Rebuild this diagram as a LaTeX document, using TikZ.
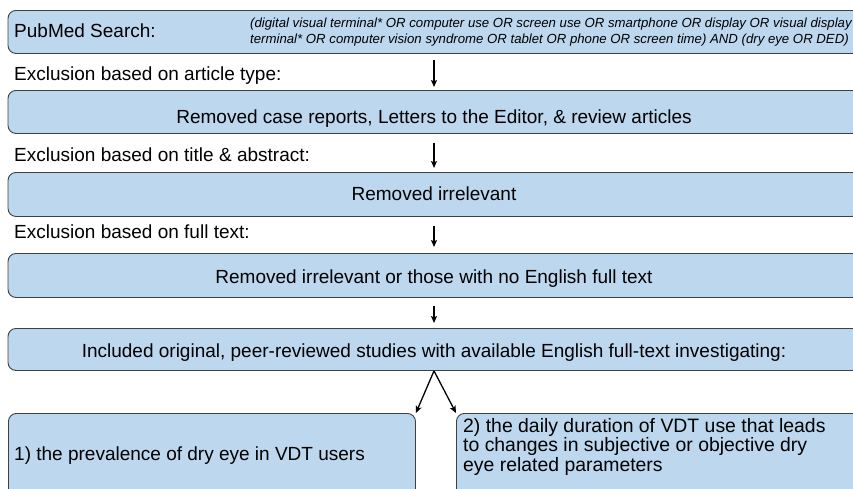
\documentclass[tikz,border=0pt]{standalone}
\usepackage{fontspec}
\setmainfont{Liberation Sans}
\usetikzlibrary{arrows.meta}
\definecolor{boxfill}{HTML}{BDD7EE}
\definecolor{boxline}{HTML}{404040}
\begin{document}
\begin{tikzpicture}[x=1pt,y=1pt,
  stagebox/.style={draw=boxline, fill=boxfill, rounded corners=8pt, line width=0.9pt, inner sep=0pt},
  lbl/.style={anchor=base west, inner sep=0pt, font=\fontsize{19}{22}\selectfont},
  ctr/.style={anchor=base, inner sep=0pt, font=\fontsize{19}{22}\selectfont},
  arr/.style={-{Stealth[length=7pt,width=6pt,inset=1.5pt]}, line width=1.4pt, black}]
\useasboundingbox (0,0) rectangle (853,-488);
\begin{scope}
\clip (0,0) rectangle (853,-488);
% boxes
\node[stagebox, minimum width=852, minimum height=43, anchor=north] (b1) at (434,-10) {};
\node[stagebox, minimum width=852, minimum height=43, anchor=north] (b2) at (434,-90) {};
\node[stagebox, minimum width=852, minimum height=44, anchor=north] (b3) at (434,-172) {};
\node[stagebox, minimum width=852, minimum height=44, anchor=north] (b4) at (434,-253) {};
\node[stagebox, minimum width=852, minimum height=42, anchor=north] (b5) at (434,-328) {};
\node[stagebox, minimum width=407, minimum height=110, anchor=north west] (b6) at (8,-413) {};
\node[stagebox, minimum width=410, minimum height=110, anchor=north west] (b7) at (456,-413) {};
\end{scope}
% texts
\node[lbl] (t1) at (14,-37) {PubMed Search:};
\node[anchor=north west, inner sep=0pt, align=left, font=\fontsize{13.2}{16}\selectfont\itshape] (q) at (250,-18)
  {(digital visual terminal* OR computer use OR screen use OR smartphone OR display OR visual display\\
   terminal* OR computer vision syndrome OR tablet OR phone OR screen time) AND (dry eye OR DED)};
\node[lbl] (e1) at (14,-80) {Exclusion based on article type:};
\node[ctr] (t2) at (434,-123) {Removed case reports, Letters to the Editor, \& review articles};
\node[lbl] (e2) at (14,-161) {Exclusion based on title \& abstract:};
\node[ctr] (t3) at (434,-200) {Removed irrelevant};
\node[lbl] (e3) at (14,-238) {Exclusion based on full text:};
\node[ctr] (t4) at (434,-283) {Removed irrelevant or those with no English full text};
\node[ctr] (t5) at (434,-357) {Included original, peer-reviewed studies with available English full-text investigating:};
\node[lbl] (t6) at (14,-460) {1) the prevalence of dry eye in VDT users};
\node[anchor=north west, inner sep=0pt, align=left, font=\fontsize{19.4}{19.6}\selectfont] (t7) at (463,-418)
  {2) the daily duration of VDT use that leads\\to changes in subjective or objective dry\\eye related parameters};
% arrows
\draw[arr, shorten <=6pt, shorten >=3pt] (b1.south) -- (b2.north);
\draw[arr, shorten <=9pt, shorten >=4pt] (b2.south) -- (b3.north);
\draw[arr, shorten <=9pt, shorten >=6pt] (b3.south) -- (b4.north);
\draw[arr, shorten <=8pt, shorten >=5pt] (b4.south) -- (b5.north);
\draw[arr, line width=1.3pt] (b5.south) -- (b6.north east);
\draw[arr, line width=1.3pt] (b5.south) -- (b7.north west);
\end{tikzpicture}
\end{document}
